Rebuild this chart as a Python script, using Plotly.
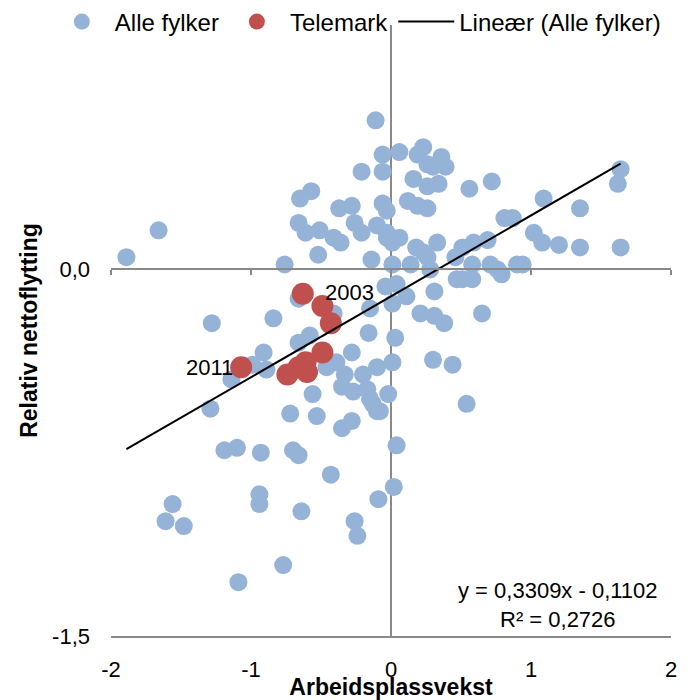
import plotly.graph_objects as go

# Alle fylker (Arbeidsplassvekst, Relativ nettoflytting)
alle_x = [-0.11, -0.06, -0.21, -0.06, -0.57, -0.65, -0.37, -0.28, -0.06, -0.03,
          -0.66, -0.61, -0.51, -0.26, -0.21, -0.10, -0.41, -0.36, -0.03, 0.01,
          -1.66, -1.89, -0.76, -0.52, -0.14, 0.01, 0.23, 0.19, 0.06, 0.36,
          0.26, 0.39, 0.30, 0.16, 0.26, 0.34, 0.56, 0.72, 1.64, 1.62,
          1.09, 1.35, 0.12, 0.19, 0.26, 0.81, 0.87, 1.02, 1.08, 1.20,
          1.35, 1.64, 0.06, -0.03, 0.33, 0.18, 0.23, 0.69, 0.59, 0.51,
          0.46, 0.14, 0.26, 0.28, 0.71, 0.76, 0.79, 0.90, 0.94, 0.58,
          0.47, 0.58, 0.51, 0.31, 0.04, -0.04, 0.11, -0.66, -0.41, -0.84,
          -1.28, -0.58, -0.66, -0.91, -0.89, -1.14, -0.99, -0.15, 0.01, -0.16,
          0.03, -0.28, -0.39, -0.46, -0.33, -0.20, -0.10, 0.01, -0.35, -0.27,
          -0.17, -0.15, -0.02, -0.56, -1.29, -0.72, -0.53, -0.35, -0.28, -0.10,
          -0.13, 0.04, 0.21, 0.31, 0.38, 0.65, 0.30, 0.44, -0.08, 0.54,
          -1.19, -1.10, -0.93, -0.70, -0.66, -0.43, 0.02, -0.09, -1.56, -1.61,
          -1.48, -0.94, -0.94, -0.64, -0.26, -0.24, -0.77, -1.09]
alle_y = [0.61, 0.47, 0.40, 0.40, 0.32, 0.29, 0.25, 0.26, 0.27, 0.24,
          0.19, 0.15, 0.16, 0.19, 0.15, 0.18, 0.13, 0.11, 0.13, 0.11,
          0.16, 0.05, 0.02, 0.06, 0.04, 0.02, 0.50, 0.47, 0.48, 0.46,
          0.43, 0.42, 0.42, 0.37, 0.34, 0.35, 0.33, 0.36, 0.41, 0.35,
          0.29, 0.25, 0.28, 0.26, 0.25, 0.21, 0.21, 0.15, 0.11, 0.10,
          0.09, 0.09, 0.13, 0.15, 0.11, 0.09, 0.07, 0.12, 0.11, 0.09,
          0.05, 0.02, 0.05, 0.00, 0.02, 0.00, -0.02, 0.02, 0.02, 0.02,
          -0.04, -0.04, -0.04, -0.09, -0.06, -0.07, -0.11, -0.12, -0.18, -0.20,
          -0.22, -0.27, -0.30, -0.34, -0.41, -0.45, -0.39, -0.16, -0.14, -0.26,
          -0.28, -0.34, -0.38, -0.40, -0.43, -0.43, -0.40, -0.38, -0.48, -0.50,
          -0.49, -0.53, -0.51, -0.51, -0.57, -0.59, -0.60, -0.65, -0.62, -0.58,
          -0.55, -0.72, -0.18, -0.19, -0.22, -0.18, -0.37, -0.39, -0.58, -0.55,
          -0.74, -0.73, -0.75, -0.74, -0.76, -0.84, -0.89, -0.94, -0.96, -1.03,
          -1.05, -0.92, -0.96, -0.99, -1.03, -1.09, -1.21, -1.28]

# Telemark 2003-2011 (first = 2003, last = 2011)
tele_x = [-0.63, -0.49, -0.43, -0.49, -0.61, -0.66, -0.60, -0.74, -1.07]
tele_y = [-0.10, -0.15, -0.22, -0.34, -0.38, -0.40, -0.42, -0.43, -0.40]
first_year = "2003"
last_year = "2011"

# Linear trendline (from chart)
slope = 0.3309
intercept = -0.1102
r2 = 0.2726

x_ticks = [-2, -1, 0, 1, 2]
x_ticktext = ["-2", "-1", "0", "1", "2"]
y_ticks = [-1.5, 0]
y_ticktext = ["-1,5", "0,0"]

FONT = "Liberation Sans, Arial, sans-serif"
AXIS_GREY = "#898989"


def comma(v):
    return str(v).replace(".", ",")


fig = go.Figure()

fig.add_trace(go.Scatter(
    x=alle_x, y=alle_y, mode="markers", name="Alle fylker",
    marker=dict(color="#95b3d7", size=18, line=dict(width=0))
))

fig.add_trace(go.Scatter(
    x=tele_x, y=tele_y, mode="markers", name="Telemark",
    marker=dict(color="#c0504d", size=22, line=dict(width=0))
))

x_line = [min(alle_x), max(alle_x)]
fig.add_trace(go.Scatter(
    x=x_line, y=[slope * v + intercept for v in x_line], mode="lines",
    name="Lineær (Alle fylker)", line=dict(color="#000000", width=2)
))

# horizontal axis line through y=0 with tick marks
fig.add_trace(go.Scatter(x=[-2, 2], y=[0, 0], xaxis="x2", mode="lines",
                         line=dict(width=0), showlegend=False, hoverinfo="skip"))

# year labels on first and last Telemark point
fig.add_annotation(x=tele_x[0], y=tele_y[0], text=first_year, showarrow=False,
                   xanchor="left", xshift=20, yshift=1, font=dict(size=22))
fig.add_annotation(x=tele_x[-1], y=tele_y[-1], text=last_year, showarrow=False,
                   xanchor="right", xshift=-6, font=dict(size=22))

fig.add_annotation(
    text=f"y = {comma(slope)}x - {comma(-intercept)}<br>R² = {comma(r2)}",
    xref="paper", yref="paper", x=0.798, y=0.051, xanchor="center", yanchor="middle",
    showarrow=False, align="center", font=dict(size=22, family=FONT, color="#000000")
)

# page body has an 8px margin, so the figure is sized to fit the 692x700 window
fig.update_layout(
    width=684, height=692,
    margin=dict(l=103, r=21, t=17, b=64, autoexpand=False),
    plot_bgcolor="#ffffff", paper_bgcolor="#ffffff",
    font=dict(family=FONT, size=22, color="#000000"),
    showlegend=True,
    legend=dict(orientation="h", x=-0.111, y=1.005, xanchor="left", yanchor="middle",
                font=dict(size=24), itemwidth=56, bgcolor="rgba(0,0,0,0)"),
    xaxis=dict(range=[-2, 2], tickvals=x_ticks, ticktext=x_ticktext,
               showgrid=False, zeroline=True, zerolinecolor=AXIS_GREY, zerolinewidth=2,
               showline=True, linecolor=AXIS_GREY, linewidth=2, ticks="",
               ticklabelstandoff=13,
               title=dict(text="<b>Arbeidsplassvekst</b>", font=dict(size=23), standoff=0)),
    xaxis2=dict(range=[-2, 2], overlaying="x", anchor="free", position=0.6, side="bottom",
                showline=True, linecolor=AXIS_GREY, linewidth=2, tickvals=x_ticks,
                ticks="outside", ticklen=5, tickwidth=2, tickcolor=AXIS_GREY,
                showticklabels=False, showgrid=False, zeroline=False),
    yaxis=dict(range=[-1.5, 1.0], tickvals=y_ticks, ticktext=y_ticktext,
               showgrid=False, zeroline=False, showline=False, ticks="",
               ticklabelstandoff=20,
               title=dict(text="<b>Relativ nettoflytting</b>", font=dict(size=23), standoff=8)),
)

fig.write_html("out.html")
